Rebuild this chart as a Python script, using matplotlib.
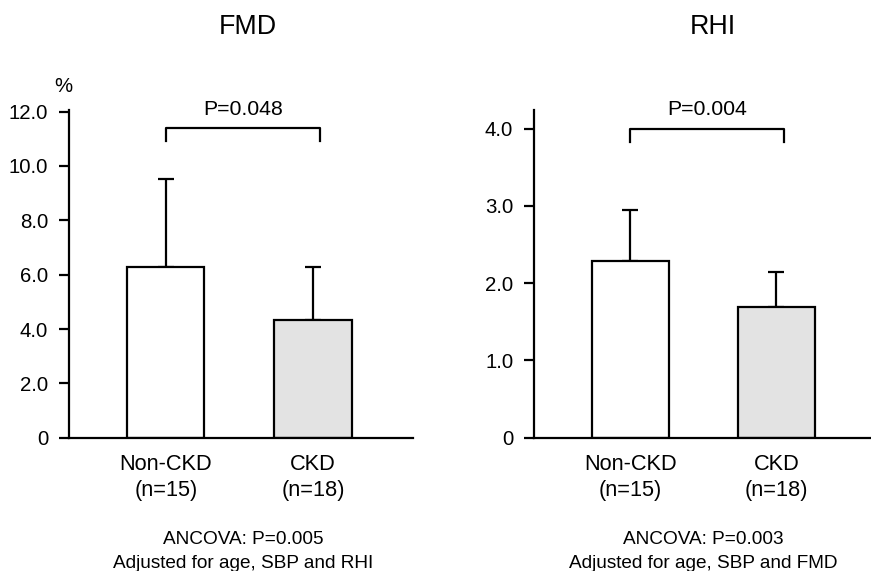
import matplotlib
matplotlib.use('Agg')
import matplotlib.pyplot as plt

plt.rcParams['font.family'] = ['Liberation Sans', 'DejaVu Sans']

groups = ['Non-CKD\n(n=15)', 'CKD\n(n=18)']
bar_colors = ['white', '#e3e3e3']

# FMD (%)
fmd_mean = [6.27, 4.34]
fmd_sd = [3.24, 1.93]
fmd_ticks = [0, 2, 4, 6, 8, 10, 12]
fmd_ticklabels = ['0', '2.0', '4.0', '6.0', '8.0', '10.0', '12.0']
fmd_p = 'P=0.048'
fmd_note = ['ANCOVA: P=0.005', 'Adjusted for age, SBP and RHI']

# RHI
rhi_mean = [2.29, 1.69]
rhi_sd = [0.65, 0.45]
rhi_ticks = [0, 1, 2, 3, 4]
rhi_ticklabels = ['0', '1.0', '2.0', '3.0', '4.0']
rhi_p = 'P=0.004'
rhi_note = ['ANCOVA: P=0.003', 'Adjusted for age, SBP and FMD']

fig = plt.figure(figsize=(8.71, 5.71), dpi=100)

W, H = 871, 571


def panel(rect_px, ymax, means, sds, ticks, ticklabels, ptext, bracket_top, bracket_leg, text_y, xmax):
    x0, x1, ytop, ybot = rect_px
    ax = fig.add_axes([x0 / W, 1 - ybot / H, (x1 - x0) / W, (ybot - ytop) / H])
    pos = [0, 1]
    ax.bar(pos, means, width=0.525, color=bar_colors, edgecolor='black', linewidth=1.6, zorder=2)
    ax.errorbar(pos, means, yerr=[[0, 0], sds], fmt='none', ecolor='black',
                elinewidth=1.6, capsize=5.5, capthick=1.6, zorder=1)
    ax.set_xlim(-0.657, xmax)
    ax.set_ylim(0, ymax)
    ax.set_yticks(ticks)
    ax.set_yticklabels(ticklabels)
    ax.set_xticks(pos)
    ax.set_xticklabels(groups, fontsize=15.7, linespacing=1.3)
    ax.tick_params(axis='x', length=0, pad=12)
    ax.tick_params(axis='y', length=7, width=1.6, pad=8, labelsize=14.7)
    for s in ['top', 'right']:
        ax.spines[s].set_visible(False)
    for s in ['left', 'bottom']:
        ax.spines[s].set_linewidth(1.6)
    # significance bracket
    ax.plot([0, 0, 1.05, 1.05], [bracket_leg, bracket_top, bracket_top, bracket_leg],
            color='black', lw=1.6, clip_on=False)
    ax.text(0.525, text_y, ptext, ha='center', va='baseline', fontsize=15.3)
    return ax


ax1 = panel((69, 413, 110, 437.7), 12.06, fmd_mean, fmd_sd, fmd_ticks, fmd_ticklabels,
            fmd_p, 11.39, 10.92, 11.88, 1.679)
ax2 = panel((534, 870, 110, 437.7), 4.24, rhi_mean, rhi_sd, rhi_ticks, rhi_ticklabels,
            rhi_p, 4.0, 3.83, 4.17, 1.64)

fig.text(248 / W, 1 - 27 / H, 'FMD', ha='center', va='center', fontsize=19.3)
fig.text(713 / W, 1 - 27 / H, 'RHI', ha='center', va='center', fontsize=19.3)
fig.text(63 / W, 1 - 86 / H, '%', ha='center', va='center', fontsize=14.7)

fig.text(243 / W, 1 - 540 / H, fmd_note[0], ha='center', va='center', fontsize=13.7)
fig.text(243 / W, 1 - 563 / H, fmd_note[1], ha='center', va='center', fontsize=13.7)
fig.text(703 / W, 1 - 540 / H, rhi_note[0], ha='center', va='center', fontsize=13.7)
fig.text(703 / W, 1 - 563 / H, rhi_note[1], ha='center', va='center', fontsize=13.7)

fig.savefig('out.png', dpi=100)
